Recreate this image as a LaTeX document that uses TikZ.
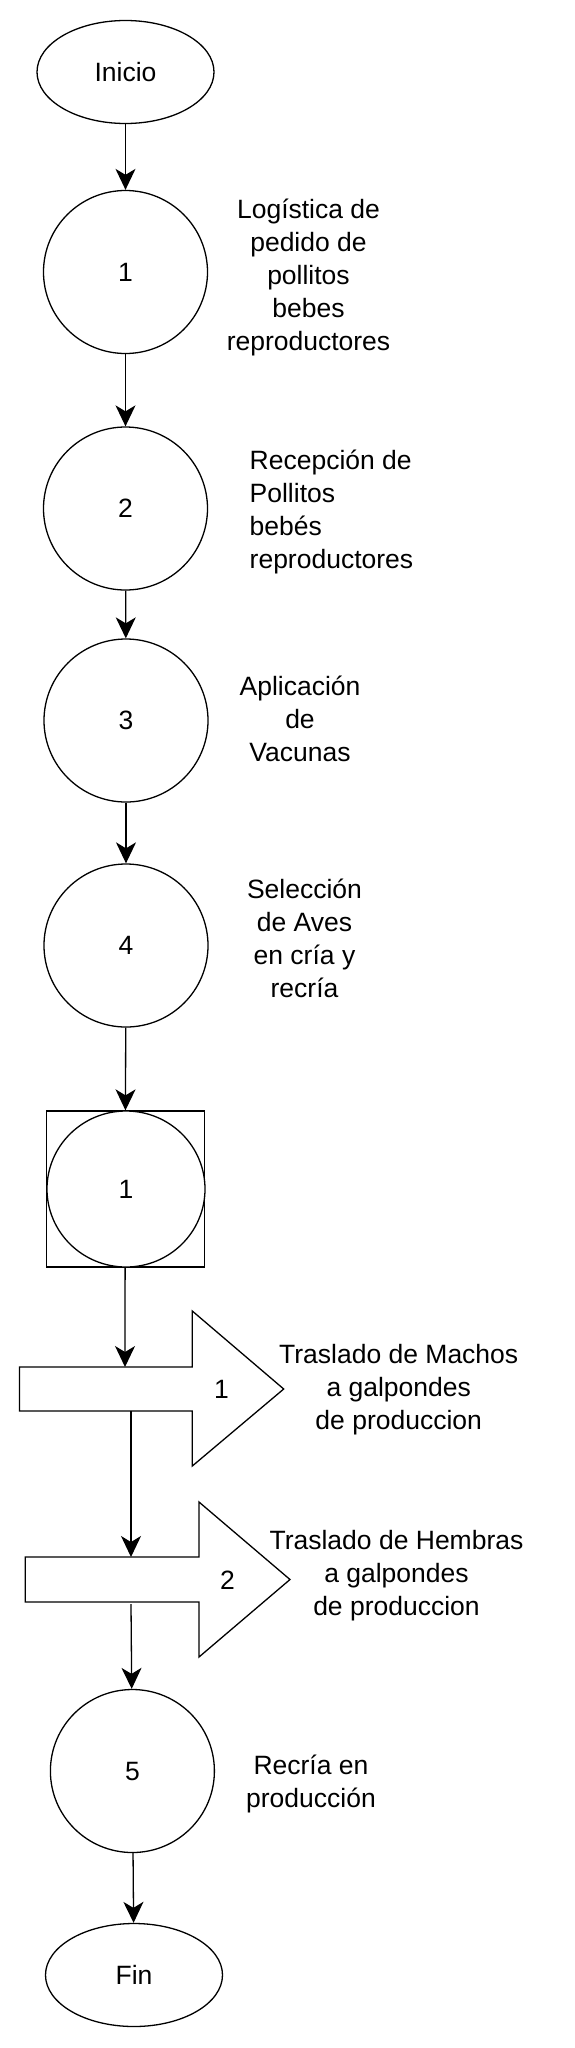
\documentclass[tikz,border=0pt]{standalone}
\usepackage{fontspec}
\setmainfont{Liberation Sans}
\usetikzlibrary{shapes, arrows.meta, positioning}
\tikzstyle{proc}=[%
      ellipse, draw=black, line width=1.3pt, fill=white,
      minimum width=164pt, minimum height=163pt, inner sep=0pt
]
\tikzstyle{term}=[%
      ellipse, draw=black, line width=1.3pt, fill=white,
      minimum width=177pt, minimum height=103pt, inner sep=0pt
]
\tikzstyle{insp}=[%
      rectangle, draw=black, line width=1.3pt,
      minimum width=158pt, minimum height=156pt, inner sep=0pt
]
\tikzstyle{inv}=[%
      rectangle, draw=none, align=center, inner sep=0pt
]
\tikzstyle{mv}=[%
      draw=black, line width=1.3pt, line join=miter
]

\begin{document}
\begin{tikzpicture}[x=1pt, y=-1pt,
    font=\fontsize{26.5}{33}\selectfont,
    flow/.style={->, line width=1.3pt},
    >={Stealth[length=21pt, width=20pt, inset=6pt]},
]
    \useasboundingbox (0,0) rectangle (574,2048);
    % main column
    \node[term]  (0) at (125.5,72)   {Inicio};
    \node[proc]  (1) at (125.5,272)  {1};
    \node[proc]  (2) at (125.5,508.5) {2};
    \node[proc]  (3) at (126,720.5)  {3};
    \node[proc]  (4) at (126,945.5)  {4};
    \node[insp]  (6) at (125.2,1189) {};
    \node[proc, minimum width=158pt, minimum height=156pt] (6c) at (126,1189) {1};
    \node[proc]  (5) at (132.4,1771) {5};
    \node[term]  (7) at (134,1975)   {Fin};
    % transport arrows
    \draw[mv] (19.5,1367) -- (192.3,1367) -- (192.3,1311) -- (283.7,1389)
              -- (192.3,1466) -- (192.3,1411) -- (19.5,1411) -- cycle;
    \draw[mv] (25.3,1557) -- (199,1557) -- (199,1502) -- (290,1579.5)
              -- (199,1657) -- (199,1602) -- (25.3,1602) -- cycle;
    \node[inv]  (m1) at (221.6,1389) {1};
    \node[inv]  (m2) at (227.5,1580) {2};
    \coordinate (a1in)  at (125,1367);
    \coordinate (a1out) at (131,1411);
    \coordinate (a2in)  at (131,1557);
    \coordinate (a2out) at (131,1604);
    % labels
    \node[inv]  (l1) at (308.5,277)  {Logística de\\pedido de\\pollitos\\bebes\\reproductores};
    \node[inv, align=left, anchor=west] (l2) at (249.5,512) {Recepción de\\Pollitos\\bebés\\reproductores};
    \node[inv]  (l3) at (300,718.5)  {Aplicación\\de\\Vacunas};
    \node[inv]  (l4) at (304.5,938.5) {Selección\\de Aves\\en cría y\\recría};
    \node[inv]  (t1) at (398.7,1390) {Traslado de Machos\\a galpondes\\de produccion};
    \node[inv]  (t2) at (396.5,1575.5) {Traslado de Hembras\\a galpondes\\de produccion};
    \node[inv]  (l5) at (311,1784)   {Recría en\\producción};
    % connectors
    \path (0) edge[flow] (1)
          (1) edge[flow] (2)
          (2) edge[flow] (3)
          (3) edge[flow] (4)
          (4) edge[flow] (6)
          (6) edge[flow] (a1in)
          (a1out) edge[flow] (a2in)
          (a2out) edge[flow] (5)
          (5) edge[flow] (7)
    ;
\end{tikzpicture}
\end{document}
